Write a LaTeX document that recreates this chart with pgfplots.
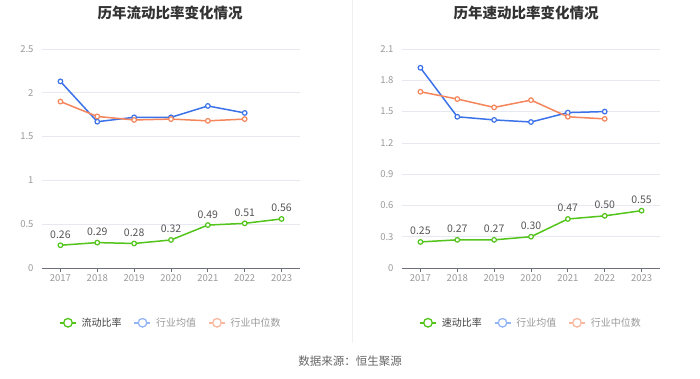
\documentclass[border=0pt]{standalone}
\usepackage{pgfplots}
\pgfplotsset{compat=1.18}
\usepackage{fontspec}
\setmainfont{Noto Sans CJK SC}
\definecolor{cgreen}{HTML}{52C41A}
\definecolor{cblue}{HTML}{3B72E8}
\definecolor{corange}{HTML}{F5855B}
\definecolor{lblue}{HTML}{93B4F5}
\definecolor{lorange}{HTML}{F9B9A0}
\definecolor{cgrid}{HTML}{E6E9F0}
\definecolor{ctick}{HTML}{999999}
\definecolor{caxis}{HTML}{6E7079}
\definecolor{clabel}{HTML}{555555}
\pgfplotsset{
  myaxis/.style={
    scale only axis, width=258pt, height=219pt,
    xmin=-0.5, xmax=6.5, ymin=0,
    xtick={0,1,2,3,4,5,6},
    xticklabels={2017,2018,2019,2020,2021,2022,2023},
    axis y line*=left, axis x line*=bottom,
    y axis line style={draw=none},
    x axis line style={caxis, line width=0.8pt, -},
    ymajorgrids, grid style={cgrid, line width=0.7pt},
    major tick length=4pt,
    xtick style={caxis, line width=0.8pt},
    tick align=outside,
    x tick label style={font=\fontsize{9.5}{10}\selectfont, text=ctick, yshift=1pt},
    y tick label style={font=\fontsize{9.5}{10}\selectfont, text=ctick, xshift=-1pt},
    ytick style={draw=none},
    /pgf/number format/assume math mode=true,
    clip=false,
    legend style={draw=none, fill=none, legend columns=3, at={(0.5,-0.25)}, anchor=center,
      font=\fontsize{10}{11}\selectfont,
      /tikz/every odd column/.append style={column sep=3pt},
      /tikz/every even column/.append style={column sep=10pt}},
    legend cell align=left,
  },
  ser/.style={line width=1.5pt, mark=*, mark size=2.3pt, mark options={fill=white, line width=1.2pt}},
  lg/.style={legend image code/.code={\draw[#1, line width=1.5pt] (0pt,0pt)--(16pt,0pt); \draw[#1, line width=1.3pt, fill=white] (8pt,0pt) circle (4.3pt);}},
  lbl/.style={nodes near coords, point meta=explicit symbolic,
    every node near coord/.append style={font=\fontsize{10.5}{11}\selectfont, text=clabel, anchor=south, yshift=3pt}},
}
\begin{document}
\begin{tikzpicture}[x=1pt,y=1pt]
\path[use as bounding box] (0,0) rectangle (700,378);
\draw[color=black!6, line width=0.8pt] (352,378) -- (352,35);
\node[font=\fontsize{14.5}{16}\selectfont\bfseries, text=black!80] at (170,365) {历年流动比率变化情况};
\node[font=\fontsize{14.5}{16}\selectfont\bfseries, text=black!80] at (526,365) {历年速动比率变化情况};
\node[font=\fontsize{11.5}{13}\selectfont, text=black!60] at (350,17) {数据来源：恒生聚源};
\begin{axis}[myaxis, at={(42pt,110pt)}, anchor=south west, ymax=2.5, ytick={0,0.5,1,1.5,2,2.5},
  yticklabels={0,0.5,1,1.5,2,2.5}]
\addplot[ser, color=cgreen, lg=cgreen, lbl] coordinates {(0,0.26)[0.26] (1,0.29)[0.29] (2,0.28)[0.28] (3,0.32)[0.32] (4,0.49)[0.49] (5,0.51)[0.51] (6,0.56)[0.56]};
\addlegendentry{\textcolor{black!75}{流动比率}}
\addplot[ser, color=cblue, lg=lblue] coordinates {(0,2.13) (1,1.67) (2,1.72) (3,1.72) (4,1.85) (5,1.77)};
\addlegendentry{\textcolor{ctick}{行业均值}}
\addplot[ser, color=corange, lg=lorange] coordinates {(0,1.90) (1,1.73) (2,1.69) (3,1.70) (4,1.68) (5,1.70)};
\addlegendentry{\textcolor{ctick}{行业中位数}}
\end{axis}
\begin{axis}[myaxis, at={(402pt,110pt)}, anchor=south west, ymax=2.1, ytick={0,0.3,0.6,0.9,1.2,1.5,1.8,2.1},
  yticklabels={0,0.3,0.6,0.9,1.2,1.5,1.8,2.1}]
\addplot[ser, color=cgreen, lg=cgreen, lbl] coordinates {(0,0.25)[0.25] (1,0.27)[0.27] (2,0.27)[0.27] (3,0.30)[0.30] (4,0.47)[0.47] (5,0.50)[0.50] (6,0.55)[0.55]};
\addlegendentry{\textcolor{black!75}{速动比率}}
\addplot[ser, color=cblue, lg=lblue] coordinates {(0,1.92) (1,1.45) (2,1.42) (3,1.40) (4,1.49) (5,1.50)};
\addlegendentry{\textcolor{ctick}{行业均值}}
\addplot[ser, color=corange, lg=lorange] coordinates {(0,1.69) (1,1.62) (2,1.54) (3,1.61) (4,1.45) (5,1.43)};
\addlegendentry{\textcolor{ctick}{行业中位数}}
\end{axis}
\end{tikzpicture}
\end{document}
